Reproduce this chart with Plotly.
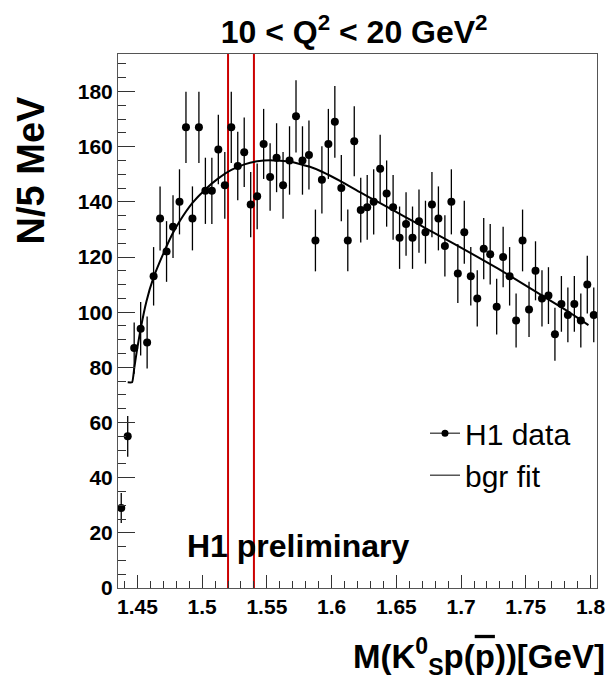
import plotly.graph_objects as go

# ---- data ----
mass = [1.4375, 1.4425, 1.4475, 1.4525, 1.4575, 1.4625, 1.4675, 1.4725, 1.4775, 1.4825,
        1.4875, 1.4925, 1.4975, 1.5025, 1.5075, 1.5125, 1.5175, 1.5225, 1.5275, 1.5325,
        1.5375, 1.5425, 1.5475, 1.5525, 1.5575, 1.5625, 1.5675, 1.5725, 1.5775, 1.5825,
        1.5875, 1.5925, 1.5975, 1.6025, 1.6075, 1.6125, 1.6175, 1.6225, 1.6275, 1.6325,
        1.6375, 1.6425, 1.6475, 1.6525, 1.6575, 1.6625, 1.6675, 1.6725, 1.6775, 1.6825,
        1.6875, 1.6925, 1.6975, 1.7025, 1.7075, 1.7125, 1.7175, 1.7225, 1.7275, 1.7325,
        1.7375, 1.7425, 1.7475, 1.7525, 1.7575, 1.7625, 1.7675, 1.7725, 1.7775, 1.7825,
        1.7875, 1.7925, 1.7975, 1.8025]
counts = [29, 55, 87, 94, 89, 113, 134, 122, 131, 140,
          167, 134, 167, 144, 144, 159, 146, 167, 153, 158,
          139, 142, 161, 149, 156, 146, 155, 171, 155, 157,
          126, 148, 161, 169, 145, 126, 162, 137, 138, 140,
          152, 143, 138, 127, 132, 127, 133, 129, 139, 134,
          124, 140, 114, 129, 113, 105, 123, 121, 102, 120,
          113, 97, 126, 101, 115, 105, 106, 92, 103, 99,
          103, 97, 110, 99]
errors = [5.4, 7.4, 9.3, 9.7, 9.4, 10.6, 11.6, 11.0, 11.4, 11.8,
          12.9, 11.6, 12.9, 12.0, 12.0, 12.6, 12.1, 12.9, 12.4, 12.6,
          11.8, 11.9, 12.7, 12.2, 12.5, 12.1, 12.4, 13.1, 12.4, 12.5,
          11.2, 12.2, 12.7, 13.0, 12.0, 11.2, 12.7, 11.7, 11.7, 11.8,
          12.3, 12.0, 11.7, 11.3, 11.5, 11.3, 11.5, 11.4, 11.8, 11.6,
          11.1, 11.8, 10.7, 11.4, 10.6, 10.2, 11.1, 11.0, 10.1, 11.0,
          10.6, 9.8, 11.2, 10.0, 10.7, 10.2, 10.3, 9.6, 10.1, 9.9,
          10.1, 9.8, 10.5, 9.9]

fit_x = [1.4425, 1.4459, 1.4475, 1.4494, 1.4523, 1.4570, 1.4624, 1.4675, 1.4726, 1.4775,
         1.4824, 1.4925, 1.5026, 1.5125, 1.5226, 1.5327, 1.5425, 1.5526, 1.5677, 1.5827,
         1.5926, 1.6076, 1.6226, 1.6350, 1.6478, 1.6628, 1.6727, 1.6848, 1.7030, 1.7289,
         1.7548, 1.7807, 1.7984]
fit_y = [74.6, 74.6, 79.5, 85.5, 93.5, 104.0, 112.5, 118.5, 124.0, 128.8,
         132.8, 139.6, 144.6, 148.5, 151.6, 153.6, 154.7, 155.1, 154.6, 152.8,
         150.9, 147.3, 143.3, 140.2, 136.9, 133.0, 130.4, 127.3, 122.6, 115.7,
         108.3, 100.8, 95.3]

signal_window = [1.52, 1.54]
x_range = [1.435, 1.805]
y_range = [0, 193.6]

FONT = "Liberation Sans, Arial, Helvetica, sans-serif"

fig = go.Figure()

# signal window lines
for xv in signal_window:
    fig.add_trace(go.Scatter(x=[xv, xv], y=y_range, mode="lines",
                             line=dict(color="rgb(204,0,0)", width=2),
                             showlegend=False, hoverinfo="skip"))

# data points
fig.add_trace(go.Scatter(
    x=mass, y=counts, mode="markers",
    marker=dict(color="black", size=8),
    error_y=dict(type="data", array=errors, visible=True, color="black",
                 thickness=1.3, width=0),
    showlegend=False, name="H1 data"))

# background fit
fig.add_trace(go.Scatter(
    x=fit_x, y=fit_y, mode="lines",
    line=dict(color="black", width=2, shape="spline", smoothing=0.4),
    showlegend=False, name="bgr fit"))

# legend entries
fig.add_trace(go.Scatter(x=[None], y=[None], mode="lines+markers", name="H1 data",
                         line=dict(color="black", width=1), marker=dict(color="black", size=7)))
fig.add_trace(go.Scatter(x=[None], y=[None], mode="lines", name="bgr fit",
                         line=dict(color="black", width=1)))

fig.update_layout(
    width=611, height=687,
    margin=dict(l=118, r=14, t=53.5, b=99, pad=0, autoexpand=False),
    paper_bgcolor="white", plot_bgcolor="white",
    font=dict(family=FONT, color="black"),
    title=dict(text="<b>10 &lt; Q<sup>2</sup> &lt; 20 GeV<sup>2</sup></b>",
               font=dict(size=32, family=FONT, color="black"),
               x=0.493, xref="paper", xanchor="center",
               y=1 - 32 / 687, yref="container", yanchor="middle"),
    xaxis=dict(range=x_range, tick0=1.45, dtick=0.05, ticks="inside", ticklen=13,
               tickwidth=1, tickcolor="#333", showline=True, linecolor="#555",
               linewidth=1, mirror=True, showgrid=False, zeroline=False,
               automargin=False,
               tickfont=dict(size=21, family=FONT, color="black", weight="bold"),
               minor=dict(dtick=0.01, ticks="inside", ticklen=7, tickcolor="#333",
                          showgrid=False)),
    yaxis=dict(range=y_range, tick0=0, dtick=20, ticks="inside", ticklen=17,
               tickwidth=1, tickcolor="#333", showline=True, linecolor="#555",
               linewidth=1, mirror=True, showgrid=False, zeroline=False,
               automargin=False,
               tickfont=dict(size=21, family=FONT, color="black", weight="bold"),
               minor=dict(dtick=5, ticks="inside", ticklen=8, tickcolor="#333",
                          showgrid=False)),
    legend=dict(x=(425 - 118) / 479, y=(588 - 407) / 534.5, xanchor="left", yanchor="top",
                bgcolor="rgba(0,0,0,0)", borderwidth=0,
                font=dict(size=30, family=FONT, color="black"),
                itemwidth=30, tracegroupgap=0),
    annotations=[
        dict(text="<b>H1 preliminary</b>", x=(298 - 118) / 479, y=(588 - 546) / 534.5,
             xref="paper", yref="paper", xanchor="center", yanchor="middle",
             showarrow=False, font=dict(size=32, family=FONT, color="black")),
        dict(text="<b>M(K<sup>0</sup><sub>S</sub>p(<span style='text-decoration:overline'>p</span>))[GeV]</b>",
             x=(607 - 118) / 479, y=(588 - 657) / 534.5,
             xref="paper", yref="paper", xanchor="right", yanchor="middle",
             showarrow=False, font=dict(size=33, family=FONT, color="black")),
        dict(text="<b>N/5 MeV</b>", x=(31 - 118) / 479, y=(588 - 170) / 534.5,
             xref="paper", yref="paper", xanchor="center", yanchor="middle",
             textangle=-90, showarrow=False,
             font=dict(size=38, family=FONT, color="black")),
    ],
)

fig.write_html("out.html", config={"displayModeBar": False},
               post_script="document.body.style.margin='0px';")
